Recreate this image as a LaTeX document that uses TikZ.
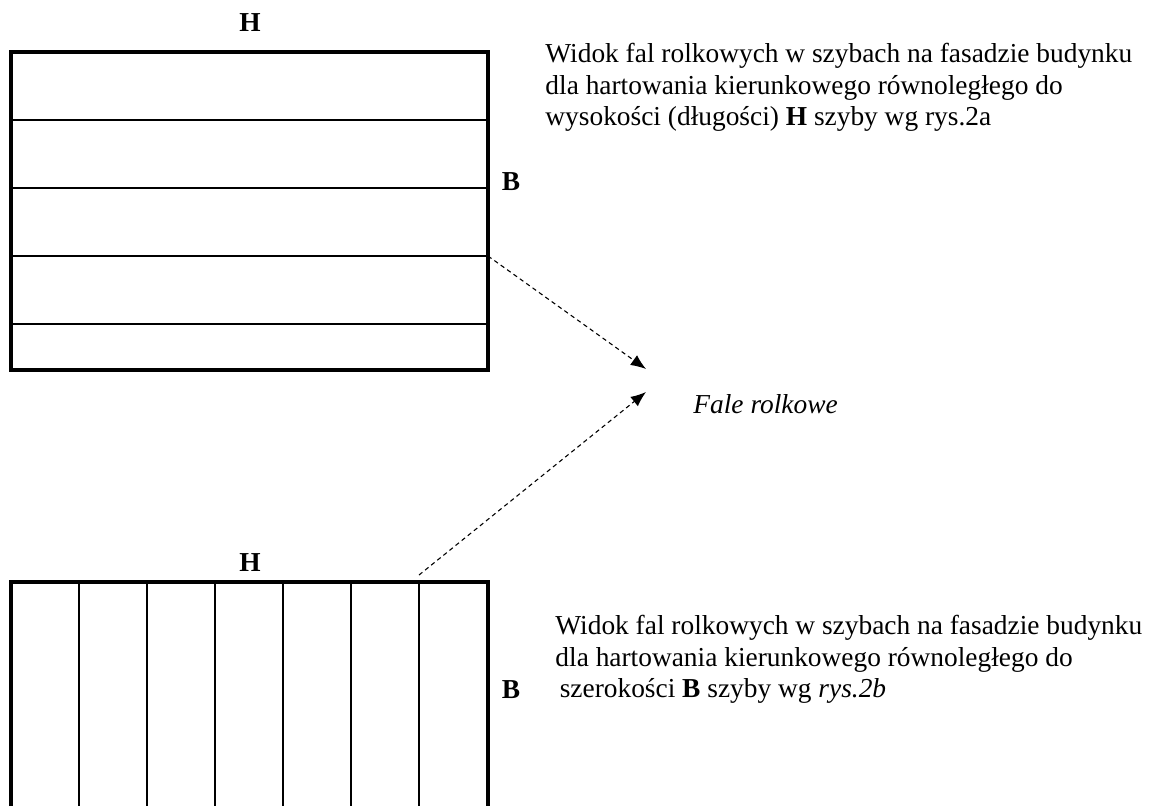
\documentclass[tikz,border=0pt]{standalone}
\usepackage{fontspec}
\setmainfont{Liberation Serif}
\usetikzlibrary{arrows.meta}

\begin{document}
\begin{tikzpicture}[x=0.46pt, y=-0.46pt, >={Latex[length=7pt, width=5.5pt]},
	pane/.style={line width=1.4pt},
	wave/.style={line width=0.6pt},
	flow/.style={->, line width=0.5pt, dash pattern=on 2pt off 1.6pt},
	lbl/.style={font=\fontsize{12.6}{14.5}\selectfont\bfseries, inner sep=0pt},
	txt/.style={font=\fontsize{12.6}{14.5}\selectfont, inner sep=0pt, align=left}]
		\useasboundingbox (0,0) rectangle (1150,806);
		
		% rys. 2a
		\node[lbl] (h1) at (250, 23) {H};
		\node[lbl] (b1) at (511, 182) {B};
		\draw[pane] (11, 52) rectangle (488, 370);
		\foreach \y in {120, 188, 256, 324}
			\draw[wave] (11, \y) -- (488, \y);
		\node[txt, anchor=north west] (opis1) at (545, 43) {Widok fal rolkowych w szybach na fasadzie budynku\\dla hartowania kierunkowego równoległego do\\wysokości (długości) \textbf{H} szyby wg rys.2a};
		
		% rys. 2b
		\node[lbl] (h2) at (250, 563) {H};
		\node[lbl] (b2) at (511, 690) {B};
		\draw[pane] (11, 806) -- (11, 582) -- (488, 582) -- (488, 806);
		\foreach \x in {79, 147, 215, 283, 351, 419}
			\draw[wave] (\x, 582) -- (\x, 806);
		\node[txt, anchor=north west] (opis2) at (555, 615) {Widok fal rolkowych w szybach na fasadzie budynku\\dla hartowania kierunkowego równoległego do\\\hspace*{2pt}szerokości \textbf{B} szyby wg \textit{rys.2b}};
		
		% fale
		\node[txt, anchor=west, font=\fontsize{12.6}{14.5}\selectfont\itshape] (fale) at (693, 404) {Fale rolkowe};
		\coordinate (s1) at (488, 256);
		\coordinate (s2) at (419, 575);
		\coordinate (k1) at (646, 369);
		\coordinate (k2) at (646, 392);
		\draw[flow] (s1) -- (k1);
		\draw[flow] (s2) -- (k2);
		
	\end{tikzpicture}
\end{document}
